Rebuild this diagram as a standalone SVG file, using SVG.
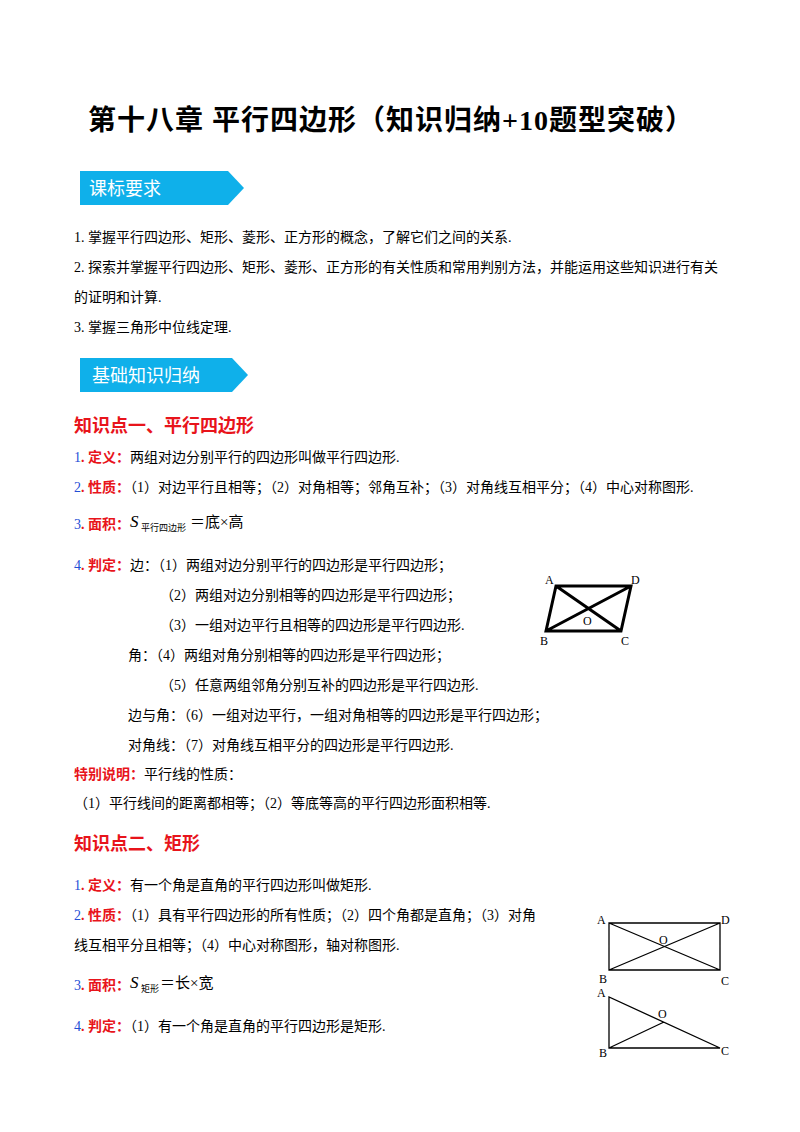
<svg xmlns="http://www.w3.org/2000/svg" width="800" height="1132" viewBox="0 0 800 1132">
<style>
text{font-family:"Liberation Serif","Noto Sans CJK SC",serif;font-size:14px;fill:#000}
.t{font-size:28px;font-weight:bold;letter-spacing:1px}
.h{font-size:18px;font-weight:bold;fill:#e8141b}
.r{fill:#e8141b;font-weight:bold}
.b{fill:#1f4fd6}
.bn{fill:#fff;font-size:18px;font-family:"Noto Sans CJK SC",sans-serif}
.fig{fill:none;stroke:#000}
.lb{font-size:12px}
</style>
<rect width="800" height="1132" fill="#fff"/>
<text class="t" x="88" y="130">第十八章  平行四边形（知识归纳+10题型突破）</text>
<g id="banner1"><path d="M80,171 H228 L244,188 L228,205 H80 Z" fill="#0fb0ea"/><text class="bn" x="89" y="195">课标要求</text></g>
<text x="74" y="242">1. 掌握平行四边形、矩形、菱形、正方形的概念，了解它们之间的关系.</text>
<text x="74" y="272">2. 探索并掌握平行四边形、矩形、菱形、正方形的有关性质和常用判别方法，并能运用这些知识进行有关</text>
<text x="74" y="302">的证明和计算.</text>
<text x="74" y="332">3.  掌握三角形中位线定理.</text>
<g id="banner2"><path d="M80,358 H232 L248,375 L232,392 H80 Z" fill="#0fb0ea"/><text class="bn" x="92" y="382">基础知识归纳</text></g>
<text class="h" x="74" y="432">知识点一、平行四边形</text>
<text x="74" y="462"><tspan class="b">1</tspan><tspan class="r">. 定义：</tspan>两组对边分别平行的四边形叫做平行四边形.</text>
<text x="74" y="492"><tspan class="b">2</tspan><tspan class="r">. 性质：</tspan>（1）对边平行且相等；（2）对角相等；邻角互补；（3）对角线互相平分；（4）中心对称图形.</text>
<text x="74" y="529"><tspan class="b">3</tspan><tspan class="r">. 面积：</tspan></text>
<text x="130" y="527" style="font-style:italic;font-size:17px">S</text>
<text x="141" y="531" style="font-size:9px">平行四边形</text>
<text x="190" y="527" style="font-size:15px">＝底×高</text>
<text x="74" y="570"><tspan class="b">4</tspan><tspan class="r">. 判定：</tspan>边：（1）两组对边分别平行的四边形是平行四边形；</text>
<text x="160" y="600">（2）两组对边分别相等的四边形是平行四边形；</text>
<text x="160" y="630">（3）一组对边平行且相等的四边形是平行四边形.</text>
<text x="128" y="660">角：（4）两组对角分别相等的四边形是平行四边形；</text>
<text x="160" y="690">（5）任意两组邻角分别互补的四边形是平行四边形.</text>
<text x="128" y="720">边与角：（6）一组对边平行，一组对角相等的四边形是平行四边形；</text>
<text x="128" y="750">对角线：（7）对角线互相平分的四边形是平行四边形.</text>
<text x="74" y="779"><tspan class="r">特别说明：</tspan>平行线的性质：</text>
<text x="74" y="808">（1）平行线间的距离都相等；（2）等底等高的平行四边形面积相等.</text>
<g id="fig1">
<path class="fig" stroke-width="3" d="M556,586 L631,586 L621,631 L546,631 Z M556,586 L621,631 M631,586 L546,631"/>
<text class="lb" x="545" y="584">A</text><text class="lb" x="631" y="584">D</text>
<text class="lb" x="540" y="645">B</text><text class="lb" x="621" y="645">C</text><text class="lb" x="583" y="625">O</text>
</g>
<text class="h" x="74" y="850">知识点二、矩形</text>
<text x="74" y="890"><tspan class="b">1</tspan><tspan class="r">. 定义：</tspan>有一个角是直角的平行四边形叫做矩形.</text>
<text x="74" y="920"><tspan class="b">2</tspan><tspan class="r">. 性质：</tspan>（1）具有平行四边形的所有性质；（2）四个角都是直角；（3）对角</text>
<text x="74" y="950">线互相平分且相等；（4）中心对称图形，轴对称图形.</text>
<text x="74" y="990"><tspan class="b">3</tspan><tspan class="r">. 面积：</tspan></text>
<text x="130" y="988" style="font-style:italic;font-size:17px">S</text>
<text x="141" y="992" style="font-size:9px">矩形</text>
<text x="160" y="988" style="font-size:15px">＝长×宽</text>
<text x="74" y="1031"><tspan class="b">4</tspan><tspan class="r">. 判定：</tspan>（1）有一个角是直角的平行四边形是矩形.</text>
<g id="fig2">
<path class="fig" stroke-width="1.3" d="M609,923 H720 V970 H609 Z M609,923 L720,970 M720,923 L609,970"/>
<text class="lb" x="597" y="924">A</text><text class="lb" x="721" y="924">D</text>
<text class="lb" x="599" y="983">B</text><text class="lb" x="721" y="985">C</text><text class="lb" x="659" y="944">O</text>
</g>
<g id="fig3">
<path class="fig" stroke-width="1.3" d="M609,997 V1048 H720 Z M609,1048 L664,1022"/>
<text class="lb" x="597" y="997">A</text><text class="lb" x="599" y="1057">B</text>
<text class="lb" x="721" y="1055">C</text><text class="lb" x="658" y="1018">O</text>
</g>
</svg>
